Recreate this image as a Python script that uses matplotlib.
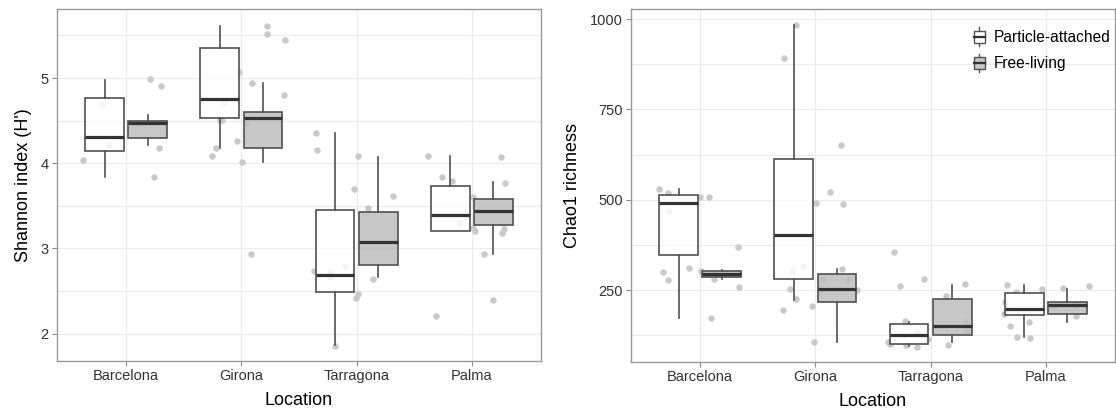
import matplotlib
matplotlib.use('Agg')
import matplotlib.pyplot as plt
import numpy as np
from matplotlib.legend_handler import HandlerBase
from matplotlib.patches import Rectangle
from matplotlib.lines import Line2D

plt.rcParams['font.family'] = ['Liberation Sans', 'DejaVu Sans']

locations = ['Barcelona', 'Girona', 'Tarragona', 'Palma']
groups = ['Particle-attached', 'Free-living']

# box stats: (whisker low, q1, median, q3, whisker high)
shannon_pa = [(3.84, 4.14, 4.31, 4.76, 4.98),
              (4.18, 4.53, 4.75, 5.35, 5.61),
              (1.87, 2.49, 2.69, 3.45, 4.35),
              (3.20, 3.20, 3.39, 3.73, 4.09)]
shannon_fl = [(4.21, 4.30, 4.47, 4.50, 4.57),
              (4.02, 4.18, 4.53, 4.60, 4.94),
              (2.67, 2.81, 3.08, 3.43, 4.07),
              (2.94, 3.27, 3.44, 3.58, 3.78)]
chao_pa = [(172, 346, 490, 512, 530),
           (222, 282, 402, 612, 983),
           (96, 100, 125, 156, 161),
           (121, 180, 197, 241, 264)]
chao_fl = [(281, 287, 294, 303, 307),
           (107, 218, 252, 294, 308),
           (107, 127, 150, 224, 264),
           (162, 185, 208, 218, 252)]

# jittered samples per location
shannon_pts = [
    [4.47, 4.91, 4.99, 4.70, 4.21, 4.18, 4.04, 3.84],
    [5.61, 5.07, 4.71, 4.51, 4.51, 4.26, 4.01, 4.47, 5.45, 5.52, 4.94, 4.80, 4.18, 4.08, 2.94],
    [4.15, 4.35, 4.08, 3.70, 3.62, 3.48, 2.47, 2.42, 1.86, 2.74, 2.72, 2.64, 2.67, 2.80],
    [4.09, 4.07, 3.84, 3.79, 3.77, 3.61, 3.18, 2.93, 2.39, 2.21, 3.21, 3.24, 3.23, 3.30],
]
chao_pts = [
    [520, 508, 508, 531, 469, 368, 301, 278, 259, 172, 310, 303, 282],
    [983, 893, 651, 521, 490, 488, 250, 250, 252, 252, 105, 317, 281, 303, 309, 278, 195, 206, 224],
    [356, 266, 281, 261, 233, 165, 137, 98, 100, 125, 135, 116, 162, 98, 93, 107],
    [245, 261, 253, 255, 264, 218, 208, 206, 161, 118, 151, 121, 183, 178],
]

EDGE = '#505050'
FILLS = [(1, 1, 1, 0.8), (0.74, 0.74, 0.74, 0.85)]


class BoxHandler(HandlerBase):
    def create_artists(self, legend, orig, xd, yd, w, h, fs, trans):
        fc = orig.get_facecolor()
        bw = w * 0.8
        x0 = -xd + (w - bw) / 2
        y0 = -yd + h * 0.18
        bh = h * 0.64
        r = Rectangle((x0, y0), bw, bh, facecolor=fc, edgecolor=EDGE, lw=1, transform=trans)
        m = Line2D([x0, x0 + bw], [y0 + bh / 2] * 2, color='#333333', lw=1.6, transform=trans)
        cx = x0 + bw / 2
        w1 = Line2D([cx, cx], [-yd, y0], color=EDGE, lw=1, transform=trans)
        w2 = Line2D([cx, cx], [y0 + bh, -yd + h], color=EDGE, lw=1, transform=trans)
        return [w1, w2, r, m]


def panel(ax, pa, fl, pts, ylim, yticks, minor, ylabel, seed):
    rng = np.random.default_rng(seed)
    for i, vals in enumerate(pts):
        xs = i + 1 + rng.uniform(-0.38, 0.38, len(vals))
        ax.scatter(xs, vals, s=22, color='#c9c9c9', lw=0, zorder=1)
    for stats, off, fc in ((pa, -0.1875, FILLS[0]), (fl, 0.1875, FILLS[1])):
        bx = [dict(whislo=s[0], q1=s[1], med=s[2], q3=s[3], whishi=s[4]) for s in stats]
        ax.bxp(bx, positions=np.arange(1, 5) + off, widths=0.3375, patch_artist=True,
               showcaps=False, showfliers=False, manage_ticks=False,
               boxprops=dict(facecolor=fc, edgecolor=EDGE, lw=1.2),
               whiskerprops=dict(color=EDGE, lw=1.2),
               medianprops=dict(color='#333333', lw=2.3), zorder=2)
    ax.set_xlim(0.4, 4.6)
    ax.set_ylim(*ylim)
    ax.set_xticks(range(1, 5))
    ax.set_xticklabels(locations)
    ax.set_yticks(yticks)
    ax.set_yticks(minor, minor=True)
    ax.grid(True, which='both', color='#ebebeb', lw=0.9)
    ax.set_axisbelow(True)
    ax.tick_params(which='major', length=3.5, width=0.8, color='#888888',
                   labelsize=10.5, labelcolor='#333333', pad=2.5)
    ax.tick_params(which='minor', length=0)
    for s in ax.spines.values():
        s.set_color('#999999')
        s.set_linewidth(1)
    ax.set_xlabel('Location', fontsize=13, labelpad=6)
    ax.set_ylabel(ylabel, fontsize=13, labelpad=6)


fig = plt.figure(figsize=(11.16, 4.16), dpi=100)
ax1 = fig.add_axes([57 / 1116, 55 / 416, 484 / 1116, 352 / 416])
ax2 = fig.add_axes([631 / 1116, 54 / 416, 484 / 1116, 353 / 416])

panel(ax1, shannon_pa, shannon_fl, shannon_pts, (1.68, 5.81), [2, 3, 4, 5],
      [2.5, 3.5, 4.5, 5.5], "Shannon index (H')", 7)
panel(ax2, chao_pa, chao_fl, chao_pts, (51, 1028), [250, 500, 750, 1000],
      [125, 375, 625, 875], 'Chao1 richness', 11)

handles = [Rectangle((0, 0), 1, 1, facecolor=FILLS[0]), Rectangle((0, 0), 1, 1, facecolor=FILLS[1])]
ax2.legend(handles, groups, handler_map={Rectangle: BoxHandler()}, loc='upper left',
           bbox_to_anchor=(0.69, 0.97), frameon=False, fontsize=11.2, handlelength=0.85,
           handleheight=1.45, handletextpad=0.5, labelspacing=0.5, borderpad=0)

fig.savefig('out.png', dpi=100)
